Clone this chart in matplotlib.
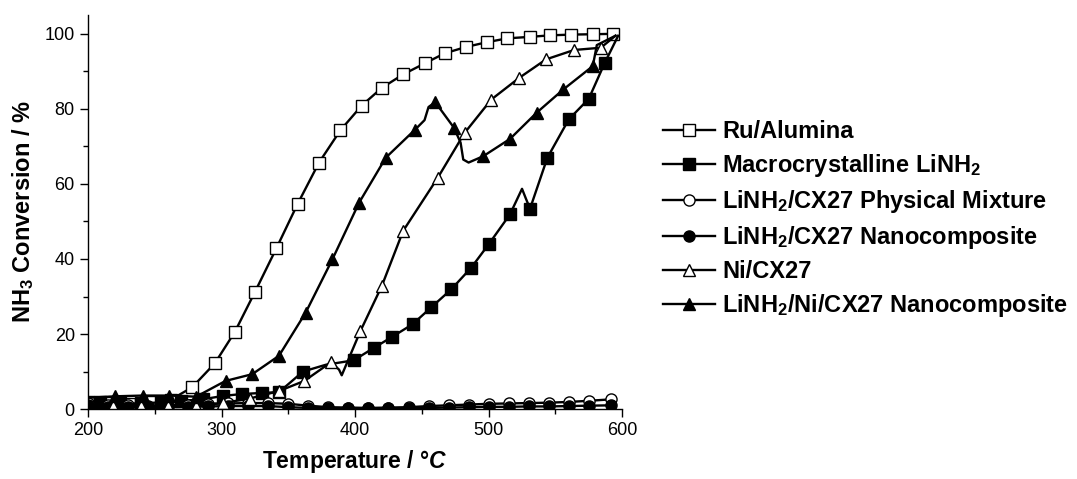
import matplotlib
matplotlib.use("Agg")
import matplotlib.pyplot as plt

plt.rcParams["font.family"] = ["Liberation Sans", "DejaVu Sans"]
plt.rcParams["mathtext.fontset"] = "custom"
plt.rcParams["mathtext.rm"] = "Liberation Sans:bold"
plt.rcParams["mathtext.it"] = "Liberation Sans:italic:bold"
plt.rcParams["mathtext.bf"] = "Liberation Sans:bold"
plt.rcParams["mathtext.bfit"] = "Liberation Sans:italic:bold"

# --- data (T in degC, conversion in %) -------------------------------------
ru_T = [200, 215, 231, 247, 262, 278, 295, 310, 325, 341, 357, 373, 389, 405,
        420, 436, 452, 467, 483, 499, 514, 531, 546, 562, 578, 593]
ru_C = [2.0, 1.5, 1.4, 1.8, 2.5, 5.8, 12.2, 20.6, 31.2, 42.8, 54.7, 65.7, 74.3,
        80.9, 85.6, 89.2, 92.1, 94.8, 96.5, 97.8, 98.8, 99.2, 99.6, 99.8, 99.9,
        100.0]

macro_T = [200, 209, 224, 240, 255, 270, 286, 301, 315, 330, 343, 361, 378,
           399, 414, 428, 443, 457, 472, 487, 500, 516, 525, 528, 531, 544, 560,
           575, 587, 597]
macro_C = [2.5, 1.8, 1.5, 1.5, 1.8, 2.2, 2.6, 3.5, 4.0, 4.3, 4.5, 10.0, 11.8,
           13.0, 16.3, 19.3, 22.6, 27.1, 31.9, 37.7, 43.9, 51.9, 58.7, 56.0,
           53.4, 67.0, 77.2, 82.7, 92.3, 99.5]
macro_mk = [1, 2, 3, 4, 5, 6, 7, 8, 9, 10, 11, 13, 14, 15, 16, 17, 18, 19, 20,
            21, 24, 25, 26, 27, 28]

phys_T = [200, 215, 230, 245, 260, 275, 290, 305, 320, 335, 350, 365, 380, 395,
          410, 425, 440, 455, 470, 485, 500, 515, 530, 545, 560, 575, 592]
phys_C = [1.5, 1.0, 1.0, 0.9, 1.0, 1.2, 1.4, 1.5, 1.6, 1.6, 1.4, 0.9, 0.5, 0.4,
          0.3, 0.4, 0.5, 0.8, 1.0, 1.2, 1.4, 1.5, 1.6, 1.7, 1.9, 2.2, 2.6]

nano_T = phys_T
nano_C = [1.2, 0.6, 0.5, 0.5, 0.5, 0.6, 0.7, 0.8, 0.8, 0.8, 0.5, 0.3, 0.2, 0.2,
          0.2, 0.2, 0.3, 0.3, 0.4, 0.5, 0.6, 0.6, 0.7, 0.7, 0.8, 0.9, 1.0]

ni_T = [200, 219, 240, 260, 281, 301, 321, 343, 362, 382, 388, 390, 404, 420,
        436, 462, 482, 502, 523, 543, 564, 584, 595]
ni_C = [1.0, 0.9, 0.9, 0.9, 0.9, 1.6, 2.8, 4.8, 7.5, 12.5, 10.5, 9.0, 20.8,
        32.8, 47.5, 61.7, 73.6, 82.5, 88.3, 93.2, 95.7, 96.3, 99.5]
ni_mk = [1, 2, 3, 4, 5, 6, 7, 8, 9, 12, 13, 14, 15, 16, 17, 18, 19, 20, 21]

nini_T = [200, 220, 241, 261, 281, 303, 323, 343, 363, 383, 403, 423, 445, 452,
          455, 460, 474, 479, 481, 485, 496, 516, 536, 556, 578, 581, 595]
nini_C = [3.0, 3.4, 3.6, 3.6, 3.3, 7.5, 9.3, 14.2, 25.7, 39.9, 55.0, 67.0, 74.5,
          77.0, 80.5, 81.8, 75.0, 71.0, 66.5, 65.7, 67.4, 72.0, 79.0, 85.2,
          91.4, 97.0, 99.5]
nini_mk = [1, 2, 3, 4, 5, 6, 7, 8, 9, 10, 11, 12, 15, 16, 20, 21, 22, 23, 24]

fig = plt.figure(figsize=(10.77, 4.79), dpi=100)
ax = fig.add_axes([0.0817, 0.146, 0.496, 0.8225])

common = dict(color="black", lw=1.7, ms=8, mew=1.0, mec="black")
ax.plot(ru_T, ru_C, marker="s", mfc="white",
        label="Ru/Alumina", **common)
ax.plot(macro_T, macro_C, marker="s", mfc="black", markevery=macro_mk,
        label="Macrocrystalline LiNH$_2$", **common)
ax.plot(phys_T, phys_C, marker="o", mfc="white",
        label="LiNH$_2$/CX27 Physical Mixture", **common)
ax.plot(nano_T, nano_C, marker="o", mfc="black",
        label="LiNH$_2$/CX27 Nanocomposite", **common)
ax.plot(ni_T, ni_C, marker="^", mfc="white", markevery=ni_mk,
        label="Ni/CX27", **common)
ax.plot(nini_T, nini_C, marker="^", mfc="black", markevery=nini_mk,
        label="LiNH$_2$/Ni/CX27 Nanocomposite", **common)

ax.set_xlim(200, 600)
ax.set_ylim(0, 105)
ax.set_xticks([200, 300, 400, 500, 600])
ax.set_xticks([250, 350, 450, 550], minor=True)
ax.set_yticks([0, 20, 40, 60, 80, 100])
ax.set_yticks([10, 30, 50, 70, 90], minor=True)
ax.tick_params(which="major", direction="out", length=6, width=1,
               labelsize=13)
ax.tick_params(which="minor", direction="out", length=3.5, width=1)
for s in ("top", "right"):
    ax.spines[s].set_visible(False)
ax.spines["left"].set_linewidth(1)
ax.spines["bottom"].set_linewidth(1)

ax.set_xlabel("Temperature / °$\\mathbfit{C}$", fontsize=16.5,
              fontweight="bold", labelpad=6)
ax.set_ylabel("NH$_3$ Conversion / %", fontsize=17, fontweight="bold",
              labelpad=6)

fig.legend(loc="upper left", bbox_to_anchor=(0.607, 0.769), frameon=False,
           prop={"weight": "bold", "size": 17}, handlelength=2.2,
           handletextpad=0.3, labelspacing=0.38, borderaxespad=0)

fig.savefig("out.png", dpi=100)
